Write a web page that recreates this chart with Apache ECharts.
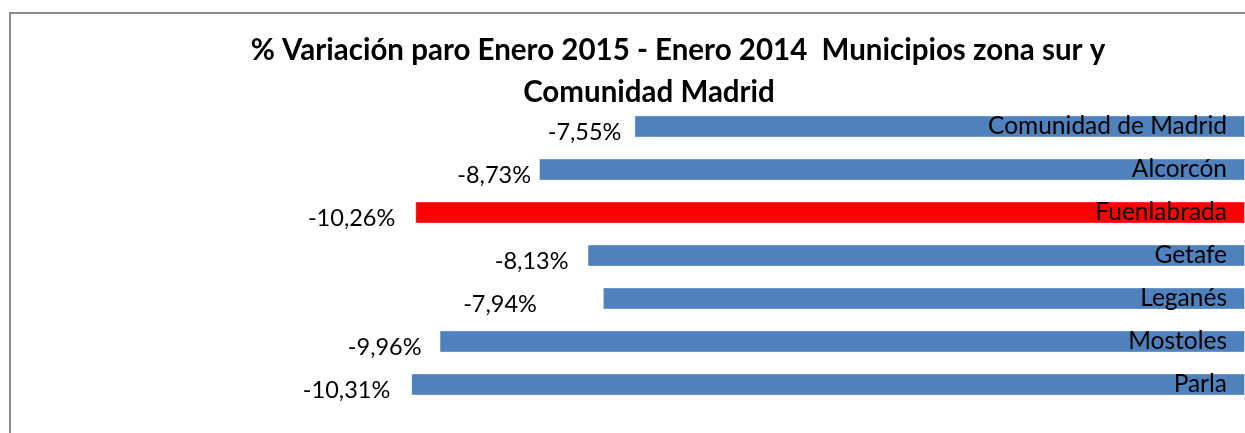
<!DOCTYPE html>
<html>
<head>
<meta charset="utf-8">
<script src="https://cdn.jsdelivr.net/npm/echarts@6/dist/echarts.min.js"></script>
<style>
  html, body { margin: 0; padding: 0; background: #fff; }
  #chart { width: 1245px; height: 433px; }
</style>
</head>
<body>
<div id="chart"></div>
<script>
const categories = ['Comunidad de Madrid', 'Alcorcón', 'Fuenlabrada', 'Getafe', 'Leganés', 'Mostoles', 'Parla'];
const values = [-7.55, -8.73, -10.26, -8.13, -7.94, -9.96, -10.31];
const highlight = 'Fuenlabrada';

// gap between each value label and its bar, as placed in the original
const labelGap = [13, 8, 20, 19, 66, 18, 21];
const font = 'Lato';

const chart = echarts.init(document.getElementById('chart'));

const option = {
  animation: false,
  backgroundColor: '#fff',
  title: [
    {
      text: '% Variación paro Enero 2015 - Enero 2014  Municipios zona sur y',
      left: 673,
      top: 30,
      textAlign: 'center',
      textStyle: { fontFamily: font, fontWeight: 'bold', fontSize: 29.5, color: '#000' }
    },
    {
      text: 'Comunidad Madrid',
      left: 644,
      top: 72,
      textAlign: 'center',
      textStyle: { fontFamily: font, fontWeight: 'bold', fontSize: 29.5, color: '#000' }
    }
  ],
  graphic: [
    {
      type: 'rect',
      shape: { x: 10, y: 13, width: 1400, height: 600 },
      style: { fill: 'none', stroke: '#8c8c8c', lineWidth: 2 },
      silent: true
    }
  ],
  grid: { left: 32, right: 0, top: 105, bottom: 27 },
  xAxis: {
    type: 'value',
    min: -15,
    max: 0,
    show: false
  },
  yAxis: {
    type: 'category',
    data: categories,
    inverse: true,
    position: 'right',
    axisLine: { show: false },
    axisTick: { show: false },
    axisLabel: {
      inside: true,
      margin: 18,
      fontFamily: font,
      fontSize: 24.5,
      color: '#000',
      verticalAlign: 'middle',
      padding: [12, 0, 0, 0]
    },
    z: 10
  },
  series: [
    {
      type: 'bar',
      data: values.map((v, i) => ({
        value: v,
        itemStyle: { color: categories[i] === highlight ? '#ff0000' : '#4f81bd' },
        label: { distance: labelGap[i] }
      })),
      barWidth: 22,
      itemStyle: { borderColor: 'rgba(255,255,255,0.35)', borderWidth: 1 },
      label: {
        show: true,
        position: 'left',
        fontFamily: font,
        fontSize: 23.5,
        color: '#000',
        padding: [8, 0, 0, 0],
        offset: [0, 6],
        formatter: p => p.value.toFixed(2).replace('.', ',') + '%'
      }
    }
  ]
};

chart.setOption(option);
</script>
</body>
</html>
